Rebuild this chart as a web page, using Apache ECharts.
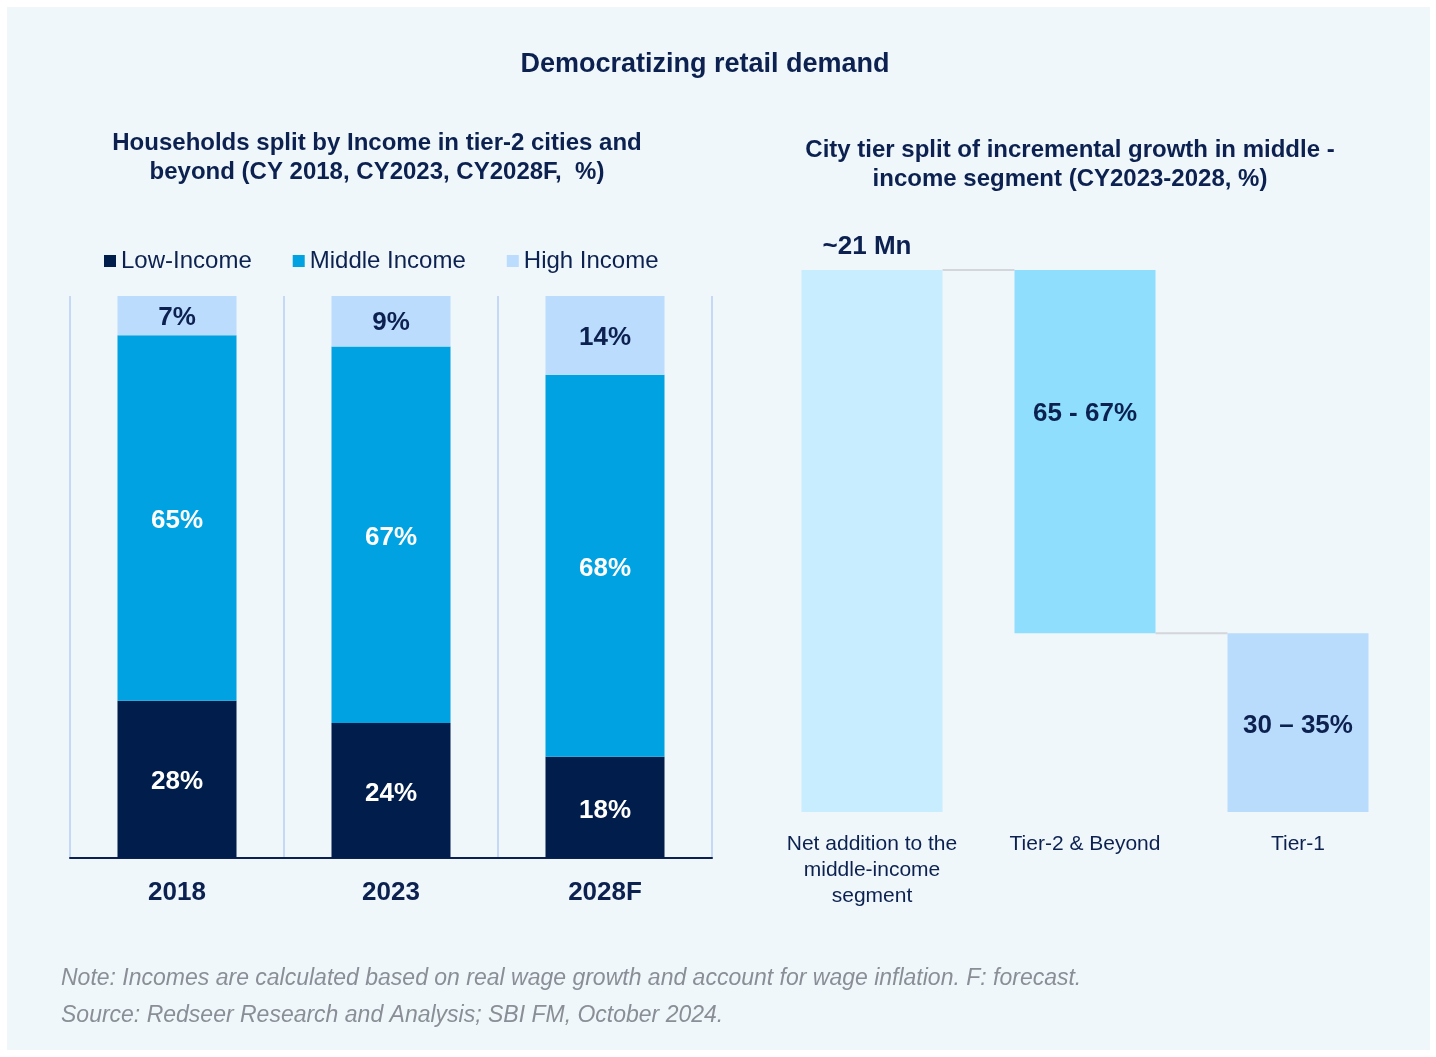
<!DOCTYPE html>
<html>
<head>
<meta charset="utf-8">
<script src="https://cdn.jsdelivr.net/npm/echarts@6/dist/echarts.min.js"></script>
<style>
html,body{margin:0;padding:0;background:#ffffff;}
#chart{width:1436px;height:1057px;}
</style>
</head>
<body>
<div id="chart"></div>
<script>
// ---- Data ----
const years = ['2018', '2023', '2028F'];
const lowIncome = [28, 24, 18];
const middleIncome = [65, 67, 68];
const highIncome = [7, 9, 14];

const tierCategories = ['Net addition to the\nmiddle-income\nsegment', 'Tier-2 & Beyond', 'Tier-1'];
const tierValues = [100, 67, 33];
const tierLabels = ['~21 Mn', '65 - 67%', '30 \u2013 35%'];

const legendNames = ['Low-Income', 'Middle Income', 'High Income'];

// ---- Derived waterfall bases ----
const tierBase = tierValues.map((v, i) => {
  if (i === 0) return 0;
  let s = tierValues[0];
  for (let k = 1; k <= i; k++) s -= tierValues[k];
  return s;
});
const connectorData = [];
for (let i = 0; i < tierValues.length - 1; i++) {
  connectorData.push([i, tierBase[i + 1] + tierValues[i + 1]]);
}

const NAVY = '#0C2150';
const FONT = '"Liberation Sans", Arial, sans-serif';
const WF_BAR_W = 141;

const chart = echarts.init(document.getElementById('chart'));
chart.setOption({
  backgroundColor: '#ffffff',
  animation: false,
  textStyle: { fontFamily: FONT },
  graphic: [
    { type: 'rect', z: -10, shape: { x: 7, y: 7, width: 1423, height: 1043 }, style: { fill: '#EFF7FB' } },
    { type: 'text', left: 61, top: 967, style: { text: 'Note: Incomes are calculated based on real wage growth and account for wage inflation. F: forecast.', font: 'italic 23px ' + FONT, fill: '#8A8E96' } },
    { type: 'text', left: 61, top: 1004, style: { text: 'Source: Redseer Research and Analysis; SBI FM, October 2024.', font: 'italic 23px ' + FONT, fill: '#8A8E96' } }
  ],
  title: [
    { text: 'Democratizing retail demand', left: 705, top: 51, textAlign: 'center', padding: 0,
      textStyle: { fontSize: 27, fontWeight: 'bold', color: NAVY, fontFamily: FONT } },
    { text: 'Households split by Income in tier-2 cities and\nbeyond (CY 2018, CY2023, CY2028F,  %)', left: 377, top: 129, textAlign: 'center', padding: 0,
      textStyle: { fontSize: 24, fontWeight: 'bold', color: NAVY, fontFamily: FONT, lineHeight: 29 } },
    { text: 'City tier split of incremental growth in middle -\nincome segment (CY2023-2028, %)', left: 1070, top: 136, textAlign: 'center', padding: 0,
      textStyle: { fontSize: 24, fontWeight: 'bold', color: NAVY, fontFamily: FONT, lineHeight: 29 } }
  ],
  legend: {
    data: legendNames,
    left: 104, top: 249, padding: 0,
    icon: 'rect', itemWidth: 12, itemHeight: 12, itemGap: 41,
    textStyle: { fontSize: 24, color: NAVY, fontFamily: FONT }
  },
  grid: [
    { left: 70, right: 724, top: 296, bottom: 199 },
    { left: 765.5, right: 31.5, top: 270, bottom: 245 }
  ],
  xAxis: [
    { type: 'category', gridIndex: 0, data: years,
      axisLine: { show: true, lineStyle: { color: '#0C2150', width: 2 } },
      axisTick: { show: false },
      splitLine: { show: true, lineStyle: { color: '#C5D8F7', width: 2 } },
      axisLabel: { fontSize: 26, fontWeight: 'bold', color: NAVY, margin: 22, fontFamily: FONT } },
    { type: 'category', gridIndex: 1, data: tierCategories,
      axisLine: { show: false }, axisTick: { show: false }, splitLine: { show: false },
      axisLabel: { fontSize: 21, color: NAVY, margin: 19, lineHeight: 26, fontFamily: FONT, interval: 0 } }
  ],
  yAxis: [
    { type: 'value', gridIndex: 0, min: 0, max: 100, show: false, splitLine: { show: false } },
    { type: 'value', gridIndex: 1, min: 0, max: 100, show: false, splitLine: { show: false } }
  ],
  series: [
    { name: 'Low-Income', type: 'bar', stack: 'a', xAxisIndex: 0, yAxisIndex: 0, barWidth: 119,
      data: lowIncome, itemStyle: { color: '#011D4B' },
      label: { show: true, position: 'inside', offset: [0, 3], formatter: '{c}%', color: '#ffffff', fontSize: 26, fontWeight: 'bold', fontFamily: FONT } },
    { name: 'Middle Income', type: 'bar', stack: 'a', xAxisIndex: 0, yAxisIndex: 0, barWidth: 119,
      data: middleIncome, itemStyle: { color: '#00A2E1' },
      label: { show: true, position: 'inside', offset: [0, 3], formatter: '{c}%', color: '#ffffff', fontSize: 26, fontWeight: 'bold', fontFamily: FONT } },
    { name: 'High Income', type: 'bar', stack: 'a', xAxisIndex: 0, yAxisIndex: 0, barWidth: 119,
      data: highIncome, itemStyle: { color: '#BCDCFD' },
      label: { show: true, position: 'inside', offset: [0, 2], formatter: '{c}%', color: NAVY, fontSize: 26, fontWeight: 'bold', fontFamily: FONT } },
    { name: 'base', type: 'bar', stack: 'wf', xAxisIndex: 1, yAxisIndex: 1, barWidth: WF_BAR_W, silent: true,
      data: tierBase, itemStyle: { color: 'rgba(0,0,0,0)' }, label: { show: false } },
    { name: 'tiers', type: 'bar', stack: 'wf', xAxisIndex: 1, yAxisIndex: 1, barWidth: WF_BAR_W,
      data: tierValues.map((v, i) => ({
        value: v,
        itemStyle: { color: ['#C7EDFE', '#8FDEFE', '#BADCFC'][i] },
        label: i === 0
          ? { show: true, position: 'top', distance: 10, offset: [-5, 0], formatter: tierLabels[i] }
          : (i === 1
            ? { show: true, position: ['50%', '39.5%'], align: 'center', verticalAlign: 'middle', formatter: tierLabels[i] }
            : { show: true, position: 'inside', offset: [0, 3], formatter: tierLabels[i] })
      })),
      label: { color: NAVY, fontSize: 26, fontWeight: 'bold', fontFamily: FONT } },
    { name: 'connectors', type: 'custom', xAxisIndex: 1, yAxisIndex: 1, silent: true,
      data: connectorData,
      renderItem: function (params, api) {
        const i = api.value(0), lvl = api.value(1);
        const p1 = api.coord([i, lvl]);
        const p2 = api.coord([i + 1, lvl]);
        return { type: 'line', shape: { x1: p1[0] + WF_BAR_W / 2, y1: p1[1], x2: p2[0] - WF_BAR_W / 2, y2: p2[1] },
          style: { stroke: '#D3D6DA', lineWidth: 2 } };
      } }
  ]
});
</script>
</body>
</html>
